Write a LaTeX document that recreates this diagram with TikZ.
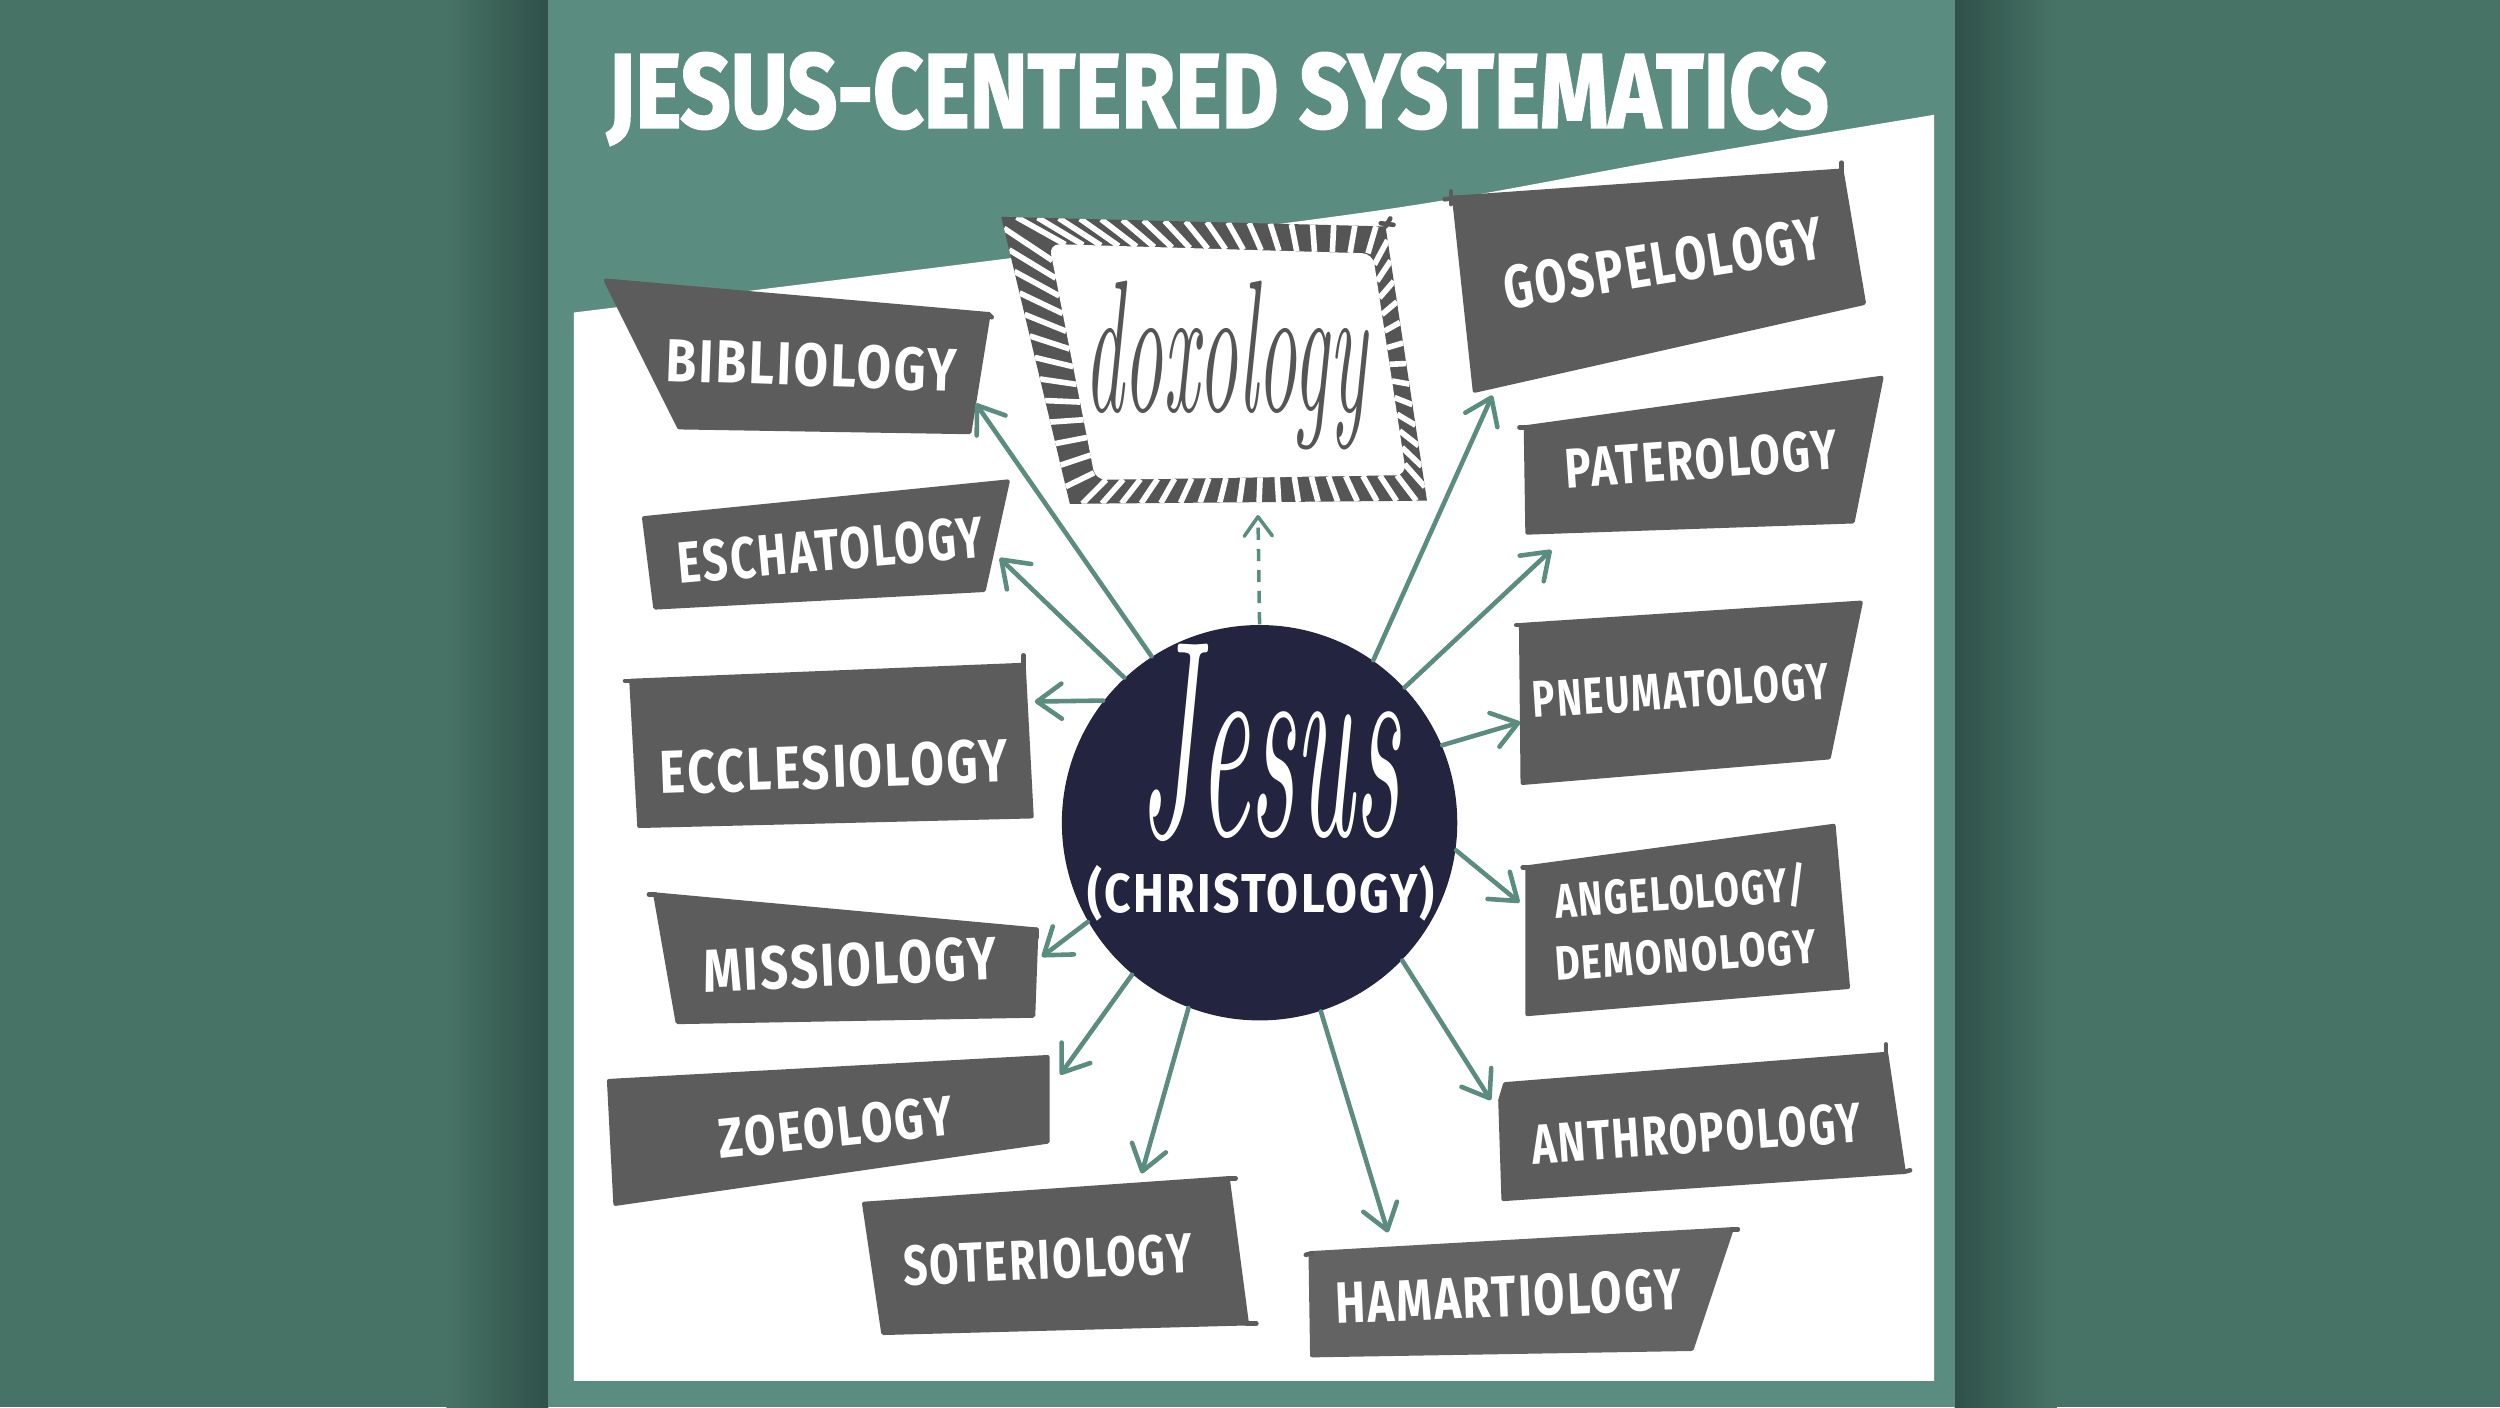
\documentclass[tikz,border=0pt]{standalone}
\usepackage{fontspec}
\usepackage{graphicx}
\usetikzlibrary{arrows.meta,calc}
\setmainfont{Latin Modern Roman}
\newfontfamily\labfont[LetterSpace=5]{Fira Sans}
\newfontfamily\ttlfont[FakeBold=2]{Fira Sans}
\newlength\ul
\setlength\ul{0.015944cm}
\definecolor{outerbg}{HTML}{477366}
\definecolor{shadowc}{HTML}{2F5149}
\definecolor{panel}{HTML}{5A8C7F}
\definecolor{boxgray}{HTML}{5C5C5C}
\definecolor{boxgrayb}{HTML}{636363}
\definecolor{navy}{HTML}{23243F}
\definecolor{dgray}{HTML}{555555}
\definecolor{arrowc}{HTML}{5A8D80}
\newcommand\lbl[3]{\resizebox{#1\ul}{#2\ul}{\labfont\bfseries #3}}
\begin{document}
\begin{tikzpicture}[x=0.015944cm,y=-0.015944cm,
  lab/.style={text=white, inner sep=0pt, anchor=center},
  box/.style={fill=boxgray, draw=boxgray, line width=1.2pt, line join=round},
  ear/.style={draw=boxgray, line width=1.3pt, line cap=round},
  arr/.style={draw=arrowc, line width=1.3pt, line cap=round,
     -{Straight Barb[length=7pt,width=10pt,round]}},
  darr/.style={draw=arrowc, line width=1pt, dash pattern=on 3.5pt off 2.5pt,
     -{Straight Barb[length=5.5pt,width=8pt,round]}},
  stripe/.style={draw=white, line width=1.6pt}]
\useasboundingbox (0,0) rectangle (1568,882.5);
% background
\fill[outerbg] (0,0) rectangle (1568,882.5);
\shade[left color=outerbg, right color=shadowc] (280,0) rectangle (344,882.5);
\shade[left color=shadowc, right color=outerbg] (1226,0) rectangle (1290,882.5);
\fill[panel] (344,0) rectangle (1226,882.5);
\fill[white] plot[smooth, tension=0.5] coordinates {(360,196) (633,162) (878,130) (1046,100) (1213,72)} -- (1213,866) -- (360,866) -- cycle;
% title
\node[text=white, inner sep=0pt, anchor=base] (title) at (764,80)
  {\resizebox{766\ul}{47\ul}{\ttlfont\bfseries JESUS-CENTERED SYSTEMATICS}};
% boxes
\draw[box] (380,176) -- (620,197) -- (608,271) -- (426,268) -- cycle;
\draw[box] (404,325) -- (632,302) -- (617,370) -- (411,381) -- cycle;
\draw[box] (396,427) -- (642,417) -- (647,512) -- (401,518) -- cycle;
\draw[box] (411,561) -- (650,583) -- (648,637) -- (425,641) -- cycle;
\draw[box] (382,678) -- (657,663) -- (657,716) -- (386,755) -- cycle;
\draw[box] (542,755) -- (770,739) -- (782,830) -- (554,836) -- cycle;
\draw[box, fill=boxgrayb, draw=boxgrayb] (822,786) -- (1086,771) -- (1061,846) -- (823,850) -- cycle;
\draw[box] (944,680) -- (1183,661) -- (1194,735) -- (943,752) -- (941,690) -- cycle;
\draw[box] (958,544) -- (1150,518) -- (1159,619) -- (958,636) -- cycle;
\draw[box] (954,392) -- (1167,378) -- (1147,475) -- (955,491) -- cycle;
\draw[box] (957,268) -- (1180,237) -- (1162,327) -- (958,334) -- cycle;
\draw[box] (912,124) -- (1155,107) -- (1169,190) -- (925,245) -- cycle;
% small hand-drawn ears
\draw[ear] (392,427) -- (400,427);
\draw[ear] (642,417) -- (642,411);
\draw[ear] (906,125) -- (914,124);
\draw[ear] (910,120) -- (910,128);
\draw[ear] (1155,107) -- (1155,102);
\draw[ear] (953,268) -- (958,268);
\draw[ear] (951,392) -- (955,392);
\draw[ear] (955,544) -- (959,544);
\draw[ear] (1183,661) -- (1183,655);
\draw[ear] (1194,735) -- (1198,734);
\draw[ear] (770,739) -- (775,739);
\draw[ear] (782,830) -- (788,830);
\draw[ear] (1086,771) -- (1090,771);
\draw[ear] (819,787) -- (823,786);
\draw[ear] (620,197) -- (622,199);
\draw[ear] (407,561) -- (411,561);
\draw[ear] (650,583) -- (650,588);
% doxology frame
\coordinate (oA) at (628,136);
\coordinate (oB) at (869,142);
\coordinate (oC) at (895,314);
\coordinate (oD) at (671,316);
\coordinate (iA) at (658,153);
\coordinate (iB) at (861,159);
\coordinate (iC) at (882,298);
\coordinate (iD) at (687,301);
\fill[dgray] (oA) -- (oB) -- (oC) -- (oD) -- cycle;
\begin{scope}
  \clip (oA) -- (oB) -- (oC) -- (oD) -- cycle;
  \foreach \t in {0.04,0.095,...,0.99}
    \draw[stripe] ($(oA)!\t!(oB)$) -- ($(iA)!\t+0.01!(iB)$);
  \foreach \t in {0.05,0.125,...,0.99}
    \draw[stripe] ($(oB)!\t!(oC)$) -- ($(iB)!\t!(iC)$);
  \foreach \t in {0.03,0.085,...,0.99}
    \draw[stripe] ($(oC)!\t!(oD)$) -- ($(iC)!\t!(iD)$);
  \foreach \t in {0.06,0.135,...,0.99}
    \draw[stripe] ($(oD)!\t!(oA)$) -- ($(iD)!\t-0.03!(iA)$);
\end{scope}
\fill[white, rounded corners=3pt] (iA) -- (iB) -- (iC) -- (iD) -- cycle;
\draw[ear, draw=dgray] (869,142) -- (872,137);
\draw[ear, draw=dgray] (866,140) -- (874,141);
\node[text=dgray, inner sep=0pt] (dox) at (768.5,229)
  {\resizebox*{177\ul}{106\ul}{\itshape doxology}};
% centre circle
\node[circle, fill=navy, minimum size=248\ul, inner sep=0pt] (jesus) at (790,516) {};
% arrow tips
\coordinate (tBib) at (612,253);
\coordinate (tEsc) at (627,350);
\coordinate (tEcc) at (649,440);
\coordinate (tMis) at (653.5,600);
\coordinate (tZoe) at (665,674);
\coordinate (tSot) at (716,736);
\coordinate (tHam) at (870.5,773);
\coordinate (tAnt) at (935,690);
\coordinate (tAng) at (953,566);
\coordinate (tPne) at (953.5,453);
\coordinate (tPat) at (973,345);
\coordinate (tGos) at (936,248);
\coordinate (tDox) at (789,323);
\draw[arr] (jesus.123.4) -- (tBib);
\draw[arr] (jesus.133.5) -- (tEsc);
\draw[arr] (jesus.142.2) -- (tEcc);
\draw[arr] (jesus.210.1) -- (tMis);
\draw[arr] (jesus.230.2) -- (tZoe);
\draw[arr] (jesus.249.4) -- (tSot);
\draw[arr] (jesus.288.4) -- (tHam);
\draw[arr] (jesus.316) -- (tAnt);
\draw[arr] (jesus.352.3) -- (tAng);
\draw[arr] (jesus.23.6) -- (tPne);
\draw[arr] (jesus.43.7) -- (tPat);
\draw[arr] (jesus.55.8) -- (tGos);
\draw[darr] (jesus.90.8) -- (tDox);
% circle text
\node[text=white, inner sep=0pt] (jname) at (796.5,466)
  {\resizebox{163\ul}{120\ul}{\itshape Jesus}};
\node[text=white, inner sep=0pt] (christ) at (791,560)
  {\resizebox*{218\ul}{35\ul}{\labfont\bfseries (CHRISTOLOGY)}};
% labels
\node[lab, rotate=-2] (bib) at (509,229) {\lbl{182}{27}{BIBLIOLOGY}};
\node[lab, rotate=5] (esc) at (521,345) {\lbl{192}{26}{ESCHATOLOGY}};
\node[lab, rotate=2] (ecc) at (523,481) {\lbl{218}{27}{ECCLESIOLOGY}};
\node[lab, rotate=2.5] (mis) at (533,605) {\lbl{184}{27}{MISSIOLOGY}};
\node[lab, rotate=6] (zoe) at (524,707) {\lbl{147}{25}{ZOEOLOGY}};
\node[lab, rotate=2.5] (sot) at (657,790) {\lbl{181}{25}{SOTERIOLOGY}};
\node[lab, rotate=2.4] (ham) at (946,813) {\lbl{217}{26}{HAMARTIOLOGY}};
\node[lab, rotate=4] (ant) at (1064,711) {\lbl{207}{25}{ANTHROPOLOGY}};
\node[lab, rotate=4] (ang) at (1054,560) {\lbl{158}{21.5}{ANGELOLOGY\smash{/}}};
\node[lab, rotate=4] (dem) at (1057,599) {\lbl{164}{21.5}{DEMONOLOGY}};
\node[lab, rotate=3.7] (pne) at (1054,433) {\lbl{186}{23}{PNEUMATOLOGY}};
\node[lab, rotate=4] (pat) at (1067,288) {\lbl{171}{25}{PATEROLOGY}};
\node[lab, rotate=9] (gos) at (1043,165) {\lbl{202}{27}{GOSPELOLOGY}};
\end{tikzpicture}
\end{document}
